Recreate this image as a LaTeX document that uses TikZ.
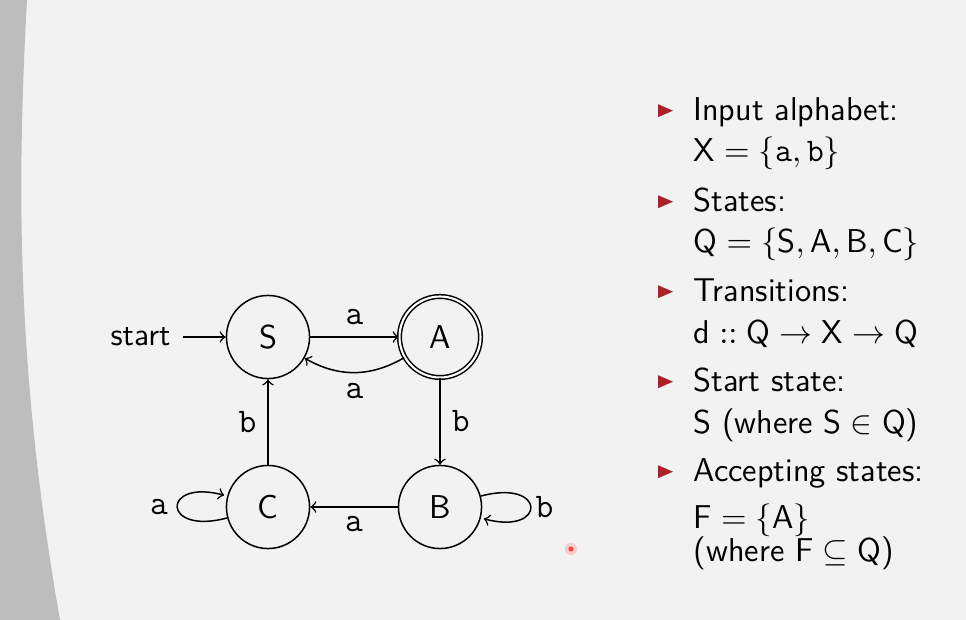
\documentclass[tikz,border=0pt]{standalone}
\usepackage{fontspec}
\definecolor{bg}{HTML}{F2F2F2}
\definecolor{band}{HTML}{BDBDBD}
\definecolor{bulletred}{RGB}{172,32,40}
\begin{document}
\begin{tikzpicture}[x=0.33333pt,y=0.33333pt,
  st/.style={circle,draw,line width=0.5pt,minimum size=27.7pt,inner sep=0pt,
    font=\sffamily\fontsize{11}{13}\selectfont},
  acc/.style={st,double,double distance=0.7pt,minimum size=27pt},
  edge/.style={->,line width=0.5pt},
  lab/.style={font=\ttfamily\fontsize{11.5}{13}\selectfont,inner sep=0pt},
  item/.style={anchor=base west,inner sep=0pt,font=\sffamily\fontsize{11}{13}\selectfont},
]
\fill[bg] (0,0) rectangle (966,-620);
\useasboundingbox (0,0) rectangle (966,-620);
\fill[band] (0,0) -- (27,0) .. controls (16,-200) and (18,-380) .. (60,-620) -- (0,-620) -- cycle;

% automaton
\node[st] (S) at (268,-337) {S};
\node[acc] (A) at (440,-337) {A};
\node[st] (B) at (440,-507) {B};
\node[st] (C) at (268,-507) {C};
\node[inner sep=0pt,font=\sffamily\fontsize{10.5}{12}\selectfont] (start) at (140.5,-337) {start};

\draw[edge,shorten <=4pt] (start) -- (S);
\draw[edge] (S) -- node[lab,above=4pt] {a} (A);
\draw[edge] (A) to[bend left=30] node[lab,below=3.4pt] {a} (S);
\draw[edge] (A) -- node[lab,right=3.7pt] {b} (B);
\draw[edge] (C) -- node[lab,left=3.6pt] {b} (S);
\draw[edge] (B) -- node[lab,below=3pt] {a} (C);
\path (C) edge[edge,loop left] node[lab,left=3pt] {a} (C);
\path (B) edge[edge,loop right] node[lab,right=1.5pt] {b} (B);

% bullets
\foreach \b in {120.7,211.7,301.7,391.7,481.7}
  \fill[bulletred] (658,-\b+16.5) -- (658,-\b+3.5) -- (673,-\b+10) -- cycle;

\node[item] (i1) at (693,-120.7) {Input alphabet:};
\node[item] (i1b) at (693,-161) {$\mathsf{X}=\{\mathtt{a},\mathtt{b}\}$};
\node[item] (i2) at (693,-211.7) {States:};
\node[item] (i2b) at (693,-252.7) {$\mathsf{Q}=\{\mathsf{S},\mathsf{A},\mathsf{B},\mathsf{C}\}$};
\node[item] (i3) at (693,-301.7) {Transitions:};
\node[item] (i3b) at (693,-343.3) {$\mathsf{d}\mathrel{::}\mathsf{Q}\to\mathsf{X}\to\mathsf{Q}$};
\node[item] (i4) at (693,-391.7) {Start state:};
\node[item] (i4b) at (693,-433.3) {S (where $\mathsf{S}\in\mathsf{Q}$)};
\node[item] (i5) at (693,-481.7) {Accepting states:};
\node[item] (i5b) at (693,-528.3) {$\mathsf{F}=\{\mathsf{A}\}$};
\node[item] (i5c) at (693,-561.7) {(where $\mathsf{F}\subseteq\mathsf{Q}$)};

% pointer dot
\fill[red!30,opacity=0.6] (571,-549) circle (6);
\fill[red!75] (571,-549) circle (2.5);
\end{tikzpicture}
\end{document}
